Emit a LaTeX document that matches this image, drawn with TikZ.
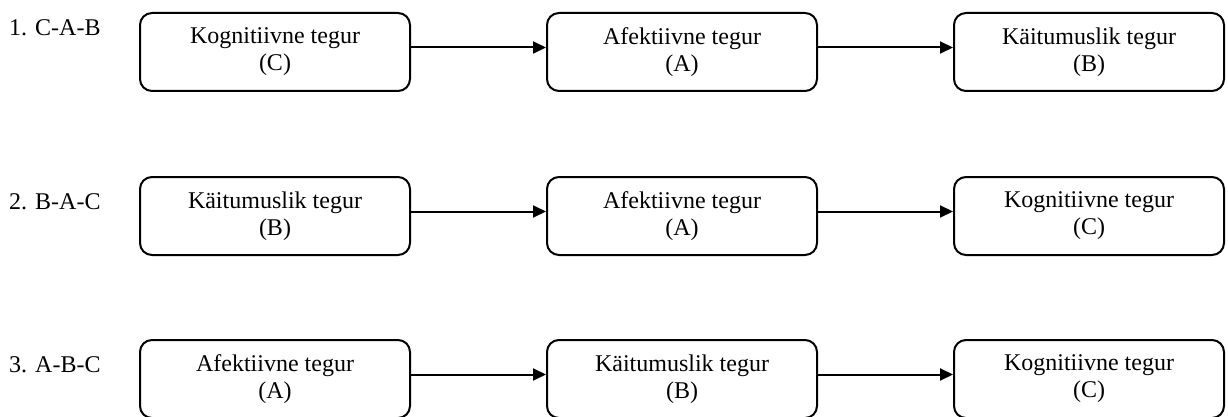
\documentclass[tikz,border=0pt]{standalone}
\usepackage{fontspec}
\setmainfont{Liberation Serif}
\usetikzlibrary{arrows.meta}
\begin{document}
\begin{tikzpicture}[x=1pt,y=-1pt,
  box/.style={draw, line width=2pt, rounded corners=12pt, minimum width=270pt, minimum height=78pt, inner sep=0pt, align=center, font=\fontsize{24}{27}\selectfont},
  rowlabel/.style={anchor=base west, inner sep=0pt, font=\fontsize{24}{27}\selectfont},
  conn/.style={line width=2pt, -{Triangle[length=13pt,width=12pt]}}]
\useasboundingbox (0,0) rectangle (1228,417);
% row 1
\node[rowlabel] (l1) at (9,36) {1. C-A-B};
\node[box] (b11) at (275,52) {Kognitiivne tegur\\(C)};
\node[box] (b12) at (682,52) {Afektiivne tegur\\(A)};
\node[box] (b13) at (1089,52) {Käitumuslik tegur\\(B)};
% row 2
\node[rowlabel] (l2) at (9,209) {2. B-A-C};
\node[box] (b21) at (275,216) {Käitumuslik tegur\\(B)};
\node[box] (b22) at (682,216) {Afektiivne tegur\\(A)};
\node[box] (b23) at (1089,216) {Kognitiivne tegur\\(C)};
% row 3
\node[rowlabel] (l3) at (9,372) {3. A-B-C};
\node[box] (b31) at (275,379) {Afektiivne tegur\\(A)};
\node[box] (b32) at (682,379) {Käitumuslik tegur\\(B)};
\node[box] (b33) at (1089,379) {Kognitiivne tegur\\(C)};
% connectors
\foreach \r in {1,2,3}{
  \draw[conn] ([yshift=4.5pt]b\r1.east) -- ([yshift=4.5pt]b\r2.west);
  \draw[conn] ([yshift=4.5pt]b\r2.east) -- ([yshift=4.5pt]b\r3.west);
}
\end{tikzpicture}
\end{document}
